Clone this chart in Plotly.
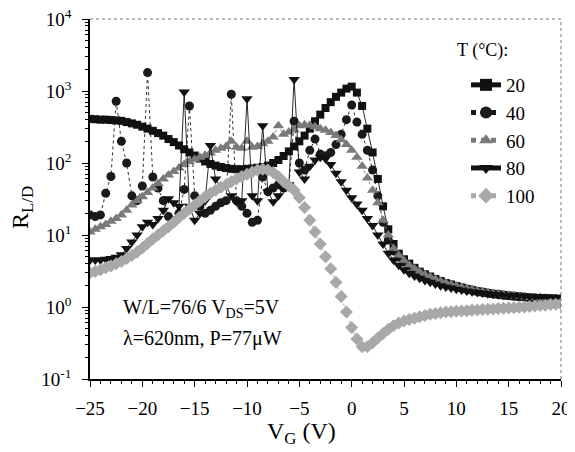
import plotly.graph_objects as go

vg = [-25.0, -24.5, -24.0, -23.5, -23.0, -22.5, -22.0, -21.5, -21.0, -20.5,
      -20.0, -19.5, -19.0, -18.5, -18.0, -17.5, -17.0, -16.5, -16.0, -15.5,
      -15.0, -14.5, -14.0, -13.5, -13.0, -12.5, -12.0, -11.5, -11.0, -10.5,
      -10.0, -9.5, -9.0, -8.5, -8.0, -7.5, -7.0, -6.5, -6.0, -5.5,
      -5.0, -4.5, -4.0, -3.5, -3.0, -2.5, -2.0, -1.5, -1.0, -0.5,
      0.0, 0.5, 1.0, 1.5, 2.0, 2.5, 3.0, 3.5, 4.0, 4.5,
      5.0, 5.5, 6.0, 6.5, 7.0, 7.5, 8.0, 8.5, 9.0, 9.5,
      10.0, 10.5, 11.0, 11.5, 12.0, 12.5, 13.0, 13.5, 14.0, 14.5,
      15.0, 15.5, 16.0, 16.5, 17.0, 17.5, 18.0, 18.5, 19.0, 19.5, 20.0]

r20 = [410, 405, 400, 400, 395, 390, 385, 370, 355, 340,
       320, 300, 280, 260, 240, 215, 195, 175, 155, 140,
       127, 115, 105, 97, 92, 88, 85, 83, 82, 82,
       83, 84, 86, 88, 92, 100, 110, 125, 145, 170,
       200, 240, 300, 380, 470, 580, 700, 830, 950, 1080,
       1150, 950, 620, 300, 140, 60, 25, 12, 7.5, 5.5,
       4.6, 4.0, 3.5, 3.1, 2.85, 2.65, 2.45, 2.3, 2.15, 2.05,
       1.95, 1.86, 1.78, 1.71, 1.65, 1.6, 1.56, 1.52, 1.49, 1.46,
       1.43, 1.41, 1.39, 1.37, 1.35, 1.33, 1.32, 1.31, 1.3, 1.29, 1.28]

r40 = [19, 18, 19, 38, 65, 720, 200, 100, 35, 30,
       48, 1800, 64, 45, 30, 18, 15, 20, 43, 620,
       35, 25, 20, 22, 25, 28, 30, 900, 30, 25,
       20, 15, 16, 64, 40, 45, 50, 45, 48, 380,
       100, 80, 150, 215, 133, 126, 140, 180, 250, 400,
       640, 370, 250, 150, 80, 35, 15, 8.5, 6, 4.9,
       4.2, 3.7, 3.3, 3.0, 2.75, 2.55, 2.4, 2.25, 2.12, 2.02,
       1.93, 1.85, 1.78, 1.72, 1.66, 1.61, 1.57, 1.53, 1.5, 1.47,
       1.45, 1.42, 1.4, 1.38, 1.36, 1.34, 1.33, 1.32, 1.31, 1.3, 1.29]

r60 = [11, 12, 13, 14, 15.5, 17, 19, 22, 26, 30,
       34, 39, 45, 52, 60, 68, 76, 85, 95, 104,
       113, 120, 128, 138, 150, 160, 170, 200, 165, 160,
       200, 165, 170, 185, 200, 230, 330, 250, 270, 290,
       330, 340, 335, 320, 300, 285, 265, 240, 210, 180,
       150, 120, 90, 62, 42, 28, 16, 10, 6.5, 5.2,
       4.4, 3.8, 3.4, 3.05, 2.8, 2.6, 2.42, 2.28, 2.15, 2.04,
       1.95, 1.87, 1.8, 1.73, 1.67, 1.62, 1.58, 1.54, 1.5, 1.47,
       1.45, 1.42, 1.4, 1.38, 1.36, 1.34, 1.32, 1.31, 1.3, 1.29, 1.28]

r80 = [4.5, 4.5, 4.5, 4.6, 4.7, 4.9, 5.3, 6.5, 8, 10,
       13, 15, 14, 17, 22, 32, 28, 25, 970, 25,
       16, 20, 30, 175, 60, 45, 48, 35, 29, 30,
       780, 35, 30, 330, 40, 29, 35, 45, 50, 1450,
       75, 60, 90, 110, 120, 115, 95, 72, 55, 42,
       33, 27, 22, 17, 13.5, 10, 7.5, 5.6, 4.5, 3.8,
       3.3, 2.95, 2.7, 2.5, 2.33, 2.2, 2.08, 1.98, 1.9, 1.83,
       1.77, 1.72, 1.67, 1.63, 1.59, 1.56, 1.53, 1.5, 1.48, 1.46,
       1.44, 1.43, 1.42, 1.41, 1.4, 1.39, 1.38, 1.38, 1.37, 1.37, 1.36]

r100 = [3.0, 3.1, 3.3, 3.5, 3.7, 4.0, 4.3, 4.7, 5.2, 5.8,
        6.6, 7.6, 8.8, 10, 11.5, 13, 15, 17.5, 20, 23,
        26, 30, 34, 38, 42, 46, 50, 55, 60, 65,
        70, 75, 80, 82, 80, 74, 65, 55, 48, 42,
        33, 24, 16, 11, 7.5, 5, 3.4, 2.2, 1.4, 0.85,
        0.52, 0.36, 0.28, 0.28, 0.32, 0.37, 0.43, 0.49, 0.55, 0.6,
        0.64, 0.67, 0.7, 0.73, 0.76, 0.79, 0.81, 0.83, 0.85, 0.86,
        0.87, 0.88, 0.89, 0.9, 0.91, 0.92, 0.93, 0.94, 0.95, 0.96,
        0.97, 0.98, 0.99, 1.0, 1.02, 1.03, 1.05, 1.06, 1.08, 1.09, 1.1]

series_names = ["20", "40", "60", "80", "100"]
series_vals = [r20, r40, r60, r80, r100]
for s in series_vals:
    assert len(s) == len(vg), len(s)

styles = [
    dict(color="#111111", symbol="square", size=8, dash="solid"),
    dict(color="#1a1a1a", symbol="circle", size=9, dash="dot"),
    dict(color="#7a7a7a", symbol="triangle-up", size=10, dash="dot"),
    dict(color="#111111", symbol="triangle-down", size=10, dash="solid"),
    dict(color="#a8a8a8", symbol="diamond", size=10, dash="dot"),
]

FONT = "Liberation Serif"
# page body has an 8px margin: figure is 8px smaller, plot area lands at x 90-561, y 19-379
W, H = 567, 444
ML, MR, MT, MB = 82, 14, 11, 73
PW = W - ML - MR
PH = H - MT - MB


def px_x(x):
    return (x - 8 - ML) / PW


def px_y(y):
    return 1 - (y - 8 - MT) / PH


fig = go.Figure()
for name, vals, st in zip(series_names, series_vals, styles):
    fig.add_trace(go.Scatter(
        x=vg, y=vals, name=name, mode="lines+markers",
        line=dict(color=st["color"], width=0.9, dash=st["dash"]),
        marker=dict(symbol=st["symbol"], size=st["size"], color=st["color"],
                    line=dict(width=0)),
    ))

ytickvals = [0.1, 1, 10, 100, 1000, 10000]
yticktext = ["10<sup>-1</sup>", "10<sup>0</sup>", "10<sup>1</sup>",
             "10<sup>2</sup>", "10<sup>3</sup>", "10<sup>4</sup>"]
xtickvals = [-25, -20, -15, -10, -5, 0, 5, 10, 15, 20]

fig.update_layout(
    width=W, height=H,
    margin=dict(l=ML, r=MR, t=MT, b=MB, autoexpand=False),
    paper_bgcolor="white", plot_bgcolor="white",
    font=dict(family=FONT, color="black", size=19),
    showlegend=True,
    legend=dict(
        x=px_x(466), y=px_y(66), xanchor="left", yanchor="top",
        bgcolor="rgba(0,0,0,0)", font=dict(family=FONT, size=19),
        tracegroupgap=0, itemsizing="constant",
    ),
    xaxis=dict(
        range=[-25, 20], tickvals=xtickvals, automargin=False,
        ticks="outside", ticklen=6, tickwidth=1, tickcolor="black",
        minor=dict(dtick=1, ticks="outside", ticklen=3, tickcolor="black"),
        showline=True, linecolor="black", linewidth=1.5,
        showgrid=False, zeroline=False, ticklabelstandoff=5,
        ticklabeloverflow="allow",
        tickfont=dict(family=FONT, size=19),
    ),
    yaxis=dict(
        type="log", range=[-1, 4], tickvals=ytickvals, ticktext=yticktext,
        automargin=False,
        ticks="outside", ticklen=6, tickwidth=1, tickcolor="black",
        minor=dict(dtick="D1", ticks="outside", ticklen=3, tickcolor="black", showgrid=False),
        showline=True, linecolor="black", linewidth=1.5,
        showgrid=False, zeroline=False, ticklabelstandoff=7,
        ticklabeloverflow="allow",
        tickfont=dict(family=FONT, size=19),
    ),
)

# top and right frame lines (light, dotted)
fig.add_shape(type="line", xref="paper", yref="paper", x0=0, x1=1, y0=1, y1=1,
              line=dict(color="#777777", width=1, dash="dot"))
fig.add_shape(type="line", xref="paper", yref="paper", x0=1, x1=1, y0=0, y1=1,
              line=dict(color="#777777", width=1, dash="dot"))

# legend title
fig.add_annotation(text="T (°C):", xref="paper", yref="paper",
                   x=px_x(455), y=px_y(50), showarrow=False,
                   font=dict(family=FONT, size=18), xanchor="left", yanchor="middle")

# axis titles
fig.add_annotation(text="V<sub>G</sub> (V)", xref="paper", yref="paper",
                   x=px_x(301), y=px_y(433), showarrow=False,
                   font=dict(family=FONT, size=24), xanchor="center", yanchor="middle")
fig.add_annotation(text="R<sub>L/D</sub>", xref="paper", yref="paper",
                   x=px_x(22), y=px_y(208), showarrow=False, textangle=-90,
                   font=dict(family=FONT, size=24), xanchor="center", yanchor="middle")

# condition notes
fig.add_annotation(text="W/L=76/6 V<sub>DS</sub>=5V", xref="paper", yref="paper",
                   x=px_x(121), y=px_y(308), showarrow=False,
                   font=dict(family=FONT, size=20), xanchor="left", yanchor="middle")
fig.add_annotation(text="λ=620nm, P=77μW", xref="paper", yref="paper",
                   x=px_x(121), y=px_y(338), showarrow=False,
                   font=dict(family=FONT, size=20), xanchor="left", yanchor="middle")

fig.write_html("out.html")
